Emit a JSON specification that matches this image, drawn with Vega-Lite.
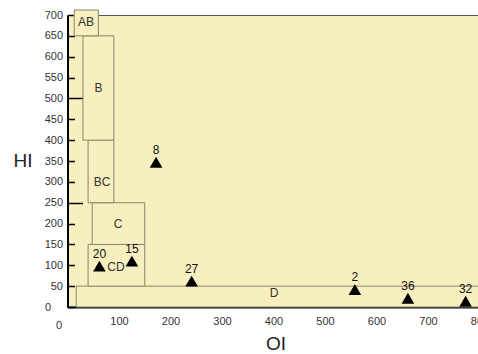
{
  "$schema": "https://vega.github.io/schema/vega-lite/v6.json",
  "width": 412,
  "height": 292,
  "autosize": {"type": "none"},
  "padding": {"left": 67.5, "top": 15, "right": 0, "bottom": 47},
  "background": "white",
  "config": {
    "view": {"fill": "#f7efc0", "stroke": "#555", "strokeWidth": 1},
    "font": "Liberation Sans"
  },
  "data": {
    "values": [
      {"kind": "box", "x": 17, "x2": 850, "y": 0, "y2": 50},
      {"kind": "box", "x": 40, "x2": 150, "y": 50, "y2": 150},
      {"kind": "box", "x": 48, "x2": 150, "y": 150, "y2": 250},
      {"kind": "box", "x": 40, "x2": 90, "y": 250, "y2": 400},
      {"kind": "box", "x": 30, "x2": 90, "y": 400, "y2": 650},
      {"kind": "box", "x": 13, "x2": 60, "y": 650, "y2": 712},
      {"kind": "boxlabel", "x": 36, "y": 684, "label": "AB"},
      {"kind": "boxlabel", "x": 60, "y": 525, "label": "B"},
      {"kind": "boxlabel", "x": 67, "y": 300, "label": "BC"},
      {"kind": "boxlabel", "x": 98, "y": 200, "label": "C"},
      {"kind": "boxlabel", "x": 94, "y": 97, "label": "CD"},
      {"kind": "boxlabel", "x": 401, "y": 33, "label": "D"},
      {"kind": "point", "x": 172, "y": 347, "label": "8"},
      {"kind": "point", "x": 62, "y": 98, "label": "20"},
      {"kind": "point", "x": 125, "y": 110, "label": "15"},
      {"kind": "point", "x": 241, "y": 62, "label": "27"},
      {"kind": "point", "x": 558, "y": 42, "label": "2"},
      {"kind": "point", "x": 661, "y": 21, "label": "36"},
      {"kind": "point", "x": 773, "y": 14, "label": "32"}
    ]
  },
  "encoding": {
    "x": {
      "field": "x", "type": "quantitative",
      "scale": {"domain": [0, 800], "nice": false, "zero": false},
      "axis": {
        "title": "OI",
        "values": [0, 100, 200, 300, 400, 500, 600, 700, 800],
        "grid": false,
        "domainColor": "#000", "domainWidth": 2,
        "tickColor": "#000", "tickWidth": 1.5,
        "tickSize": {"condition": {"test": "datum.value == 500", "value": -14}, "value": -6},
        "labelFont": "Liberation Sans", "labelFontSize": 11, "labelColor": "#333",
        "labelPadding": {"condition": [{"test": "datum.value == 0", "value": 18}, {"test": "datum.value == 500", "value": 22}], "value": 14},
        "labelOffset": {"condition": {"test": "datum.value == 0", "value": -9}, "value": 0},
        "labelFlush": false, "labelOverlap": false,
        "titleFont": "Liberation Sans", "titleFontSize": 19, "titleFontWeight": "normal", "titleColor": "#222",
        "titleX": 208, "titleY": 36, "titleAlign": "center", "titleBaseline": "middle"
      }
    },
    "y": {
      "field": "y", "type": "quantitative",
      "scale": {"domain": [0, 700], "nice": false, "zero": false},
      "axis": {
        "title": "HI",
        "values": [0, 50, 100, 150, 200, 250, 300, 350, 400, 450, 500, 550, 600, 650, 700],
        "grid": false,
        "domainColor": "#000", "domainWidth": 2,
        "tickColor": "#000", "tickWidth": 1.5,
        "tickSize": {"condition": {"test": "datum.value == 500 || datum.value == 250", "value": -15}, "value": -7},
        "labelFont": "Liberation Sans", "labelFontSize": 11, "labelColor": "#333",
        "labelPadding": {"condition": [{"test": "datum.value == 0", "value": 24}, {"test": "datum.value == 500 || datum.value == 250", "value": 20}], "value": 12},
        "labelFlush": false, "labelOverlap": false,
        "titleFont": "Liberation Sans", "titleFontSize": 19, "titleFontWeight": "normal", "titleColor": "#222",
        "titleAngle": 0, "titleX": -45, "titleY": 145, "titleAlign": "center", "titleBaseline": "middle"
      }
    }
  },
  "layer": [
    {
      "transform": [{"filter": "datum.kind == 'box'"}],
      "mark": {"type": "rect", "fill": "#f7efc0", "stroke": "#8c8468", "strokeWidth": 1},
      "encoding": {"x2": {"field": "x2"}, "y2": {"field": "y2"}}
    },
    {
      "transform": [{"filter": "datum.kind == 'boxlabel'"}],
      "mark": {"type": "text", "font": "Liberation Sans", "fontSize": 12, "color": "#333", "align": "center", "baseline": "middle"},
      "encoding": {"text": {"field": "label"}}
    },
    {
      "transform": [{"filter": "datum.kind == 'point'"}],
      "mark": {"type": "point", "shape": "triangle-up", "filled": true, "color": "#000", "size": 160, "opacity": 1},
      "encoding": {}
    },
    {
      "transform": [{"filter": "datum.kind == 'point'"}],
      "mark": {"type": "text", "font": "Liberation Sans", "fontSize": 12, "color": "#111", "align": "center", "baseline": "middle", "dy": -12},
      "encoding": {"text": {"field": "label"}}
    }
  ]
}
